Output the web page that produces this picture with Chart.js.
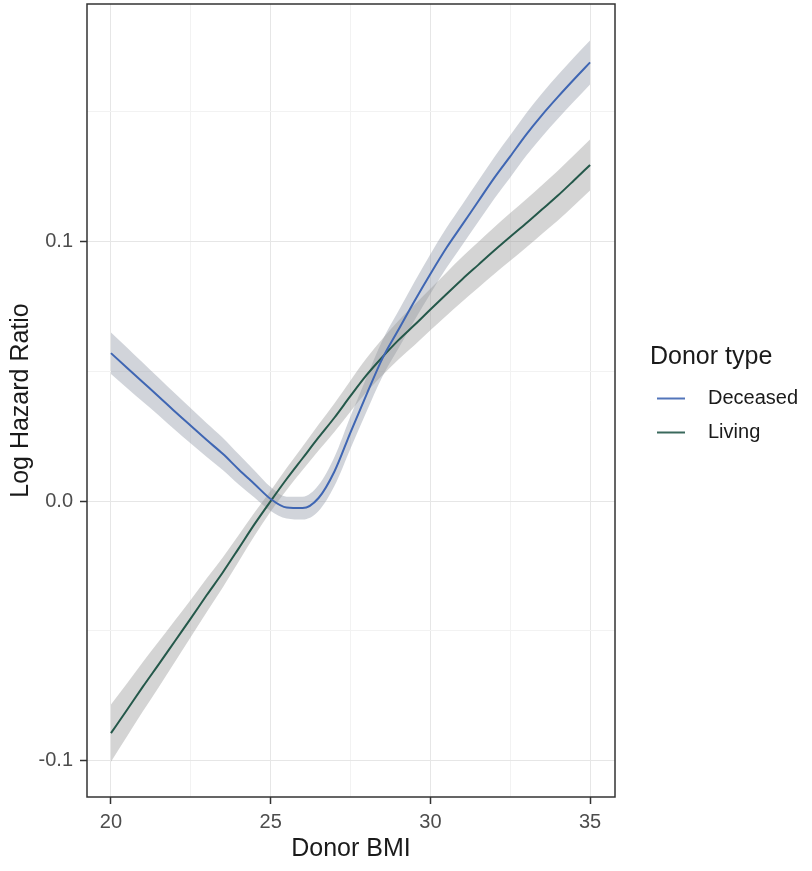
<!DOCTYPE html>
<html>
<head>
<meta charset="utf-8">
<script src="https://cdn.jsdelivr.net/npm/chart.js"></script>
<style>
  html, body { margin: 0; padding: 0; background: #ffffff; }
  canvas { display: block; }
</style>
</head>
<body>
<canvas id="c" width="812" height="871"></canvas>
<script>
// ---- data ----
const bmi = [20, 20.5, 21, 21.5, 22, 22.5, 23, 23.5, 24, 24.5, 25, 25.5, 26, 26.5, 27, 27.5,
             28, 28.5, 29, 29.5, 30, 30.5, 31, 31.5, 32, 32.5, 33, 33.5, 34, 34.5, 35];

const deceased = [0.0570, 0.0514, 0.0458, 0.0402, 0.0345, 0.0290, 0.0235, 0.0182, 0.0122, 0.0065,
                  0.0008, -0.0025, -0.0027, 0.0012, 0.0115, 0.0265, 0.0410, 0.0550, 0.0660, 0.0770,
                  0.0875, 0.0975, 0.1065, 0.1155, 0.1245, 0.1328, 0.1412, 0.1488, 0.1558, 0.1625, 0.1690];
const deceasedUpper = [0.0650, 0.0592, 0.0533, 0.0474, 0.0415, 0.0358, 0.0300, 0.0244, 0.0180, 0.0117,
                       0.0054, 0.0017, 0.0017, 0.0062, 0.0171, 0.0327, 0.0476, 0.0620, 0.0732, 0.0844,
                       0.0951, 0.1052, 0.1143, 0.1234, 0.1325, 0.1409, 0.1494, 0.1571, 0.1642, 0.1710, 0.1775];
const deceasedLower = [0.0490, 0.0436, 0.0383, 0.0330, 0.0275, 0.0222, 0.0170, 0.0120, 0.0064, 0.0013,
                       -0.0038, -0.0067, -0.0071, -0.0038, 0.0059, 0.0203, 0.0344, 0.0480, 0.0588, 0.0696,
                       0.0799, 0.0898, 0.0987, 0.1076, 0.1165, 0.1247, 0.1330, 0.1405, 0.1474, 0.1540, 0.1605];

const living = [-0.0894, -0.0805, -0.0715, -0.0628, -0.0540, -0.0452, -0.0362, -0.0275, -0.0182, -0.0088,
                0.0000, 0.0085, 0.0165, 0.0245, 0.0322, 0.0405, 0.0485, 0.0555, 0.0620, 0.0678,
                0.0738, 0.0797, 0.0855, 0.0910, 0.0965, 0.1018, 0.1070, 0.1124, 0.1178, 0.1236, 0.1295];
const livingUpper = [-0.0784, -0.0703, -0.0620, -0.0540, -0.0460, -0.0380, -0.0297, -0.0217, -0.0131, -0.0043,
                     0.0040, 0.0127, 0.0210, 0.0295, 0.0377, 0.0465, 0.0550, 0.0625, 0.0695, 0.0756,
                     0.0818, 0.0880, 0.0941, 0.0998, 0.1055, 0.1110, 0.1163, 0.1218, 0.1274, 0.1333, 0.1393];
const livingLower = [-0.1004, -0.0907, -0.0810, -0.0716, -0.0620, -0.0524, -0.0427, -0.0333, -0.0233, -0.0133,
                     -0.0040, 0.0043, 0.0120, 0.0195, 0.0267, 0.0345, 0.0420, 0.0485, 0.0545, 0.0600,
                     0.0658, 0.0714, 0.0769, 0.0822, 0.0875, 0.0926, 0.0977, 0.1030, 0.1082, 0.1139, 0.1197];

const seriesNames = ['Deceased', 'Living'];
const legendTitle = 'Donor type';
const xTitle = 'Donor BMI';
const yTitle = 'Log Hazard Ratio';
const xMajorTicks = [20, 25, 30, 35];
const xMinorTicks = [22.5, 27.5, 32.5];
const yMajorTicks = [-0.1, 0, 0.1];
const yMajorLabels = ['-0.1', '0.0', '0.1'];
const yMinorTicks = [-0.05, 0.05, 0.15];

// ---- helpers ----
const pts = (ys) => bmi.map((x, i) => ({ x: x, y: ys[i] }));
const near = (a, b) => Math.abs(a - b) < 1e-9;
const isIn = (v, arr) => arr.some(t => near(t, v));

const FONT = "'Liberation Sans', Arial, Helvetica, sans-serif";
Chart.defaults.font.family = FONT;

const blue = '#3f66b3';
const green = '#24584a';
const bandDeceased = 'rgba(146,152,166,0.42)';
const bandLiving = 'rgba(153,153,153,0.42)';

// legend key: a short line drawn at the left of a wider image
function keyImage(color) {
  const c = document.createElement('canvas');
  c.width = 48; c.height = 4;
  const g = c.getContext('2d');
  g.strokeStyle = color; g.lineWidth = 1.8;
  g.beginPath(); g.moveTo(0, 2); g.lineTo(28, 2); g.stroke();
  return c;
}
const keyImgs = [keyImage(blue), keyImage(green)];

const panelBorder = {
  id: 'panelBorder',
  afterDraw(chart) {
    const { ctx, chartArea: a } = chart;
    ctx.save();
    ctx.strokeStyle = '#333333';
    ctx.lineWidth = 1.5;
    ctx.strokeRect(a.left, a.top, a.right - a.left, a.bottom - a.top);
    ctx.restore();
  }
};

const lineDs = (label, data, color) => ({
  label, data: pts(data), borderColor: color, backgroundColor: color,
  borderWidth: 2, pointRadius: 0, fill: false, order: 0,
  cubicInterpolationMode: 'monotone'
});
const bandDs = (data, fill, color, order) => ({
  label: '', data: pts(data), borderWidth: 0, borderColor: 'rgba(0,0,0,0)',
  backgroundColor: color, pointRadius: 0, fill: fill, order: order,
  cubicInterpolationMode: 'monotone'
});

new Chart(document.getElementById('c'), {
  type: 'line',
  data: {
    datasets: [
      lineDs(seriesNames[0], deceased, blue),
      lineDs(seriesNames[1], living, green),
      bandDs(deceasedUpper, false, bandDeceased, 2),
      bandDs(deceasedLower, 2, bandDeceased, 2),
      bandDs(livingUpper, false, bandLiving, 1),
      bandDs(livingLower, 4, bandLiving, 1)
    ]
  },
  options: {
    responsive: false,
    animation: false,
    devicePixelRatio: 1,
    layout: { padding: { top: 4, right: 12, bottom: 0, left: 0 } },
    plugins: {
      tooltip: { enabled: false },
      legend: {
        display: true,
        position: 'right',
        align: 'center',
        fullSize: false,
        maxWidth: 150,
        title: {
          display: true, text: legendTitle, position: 'start',
          color: '#1a1a1a', font: { size: 25, family: FONT }
        },
        labels: {
          usePointStyle: true, pointStyleWidth: 34,
          padding: 14, color: '#1a1a1a', font: { size: 20, family: FONT },
          generateLabels: (chart) => Chart.defaults.plugins.legend.labels.generateLabels(chart)
            .filter(item => item.datasetIndex < 2)
            .map(item => Object.assign(item, { pointStyle: keyImgs[item.datasetIndex] }))
        }
      }
    },
    scales: {
      x: {
        type: 'linear',
        min: 19.25, max: 35.78,
        afterBuildTicks: (s) => { s.ticks = xMajorTicks.concat(xMinorTicks).sort((a, b) => a - b).map(v => ({ value: v })); },
        afterFit: (s) => { s.height = 74; s.paddingLeft = 0; s.paddingRight = 0; },
        ticks: {
          autoSkip: false, maxRotation: 0, padding: 6,
          color: '#4d4d4d', font: { size: 20 },
          callback: (v) => isIn(v, xMajorTicks) ? String(v) : ''
        },
        grid: {
          color: (c) => isIn(c.tick.value, xMajorTicks) ? '#e6e6e6' : '#f2f2f2',
          tickColor: (c) => isIn(c.tick.value, xMajorTicks) ? '#333333' : 'rgba(0,0,0,0)',
          tickLength: 7, tickWidth: 1.5, lineWidth: 1
        },
        border: { display: false },
        title: { display: true, text: xTitle, color: '#1a1a1a', font: { size: 25 }, padding: { top: 0, bottom: 7 } }
      },
      y: {
        type: 'linear',
        min: -0.114, max: 0.1915,
        afterBuildTicks: (s) => { s.ticks = yMajorTicks.concat(yMinorTicks).sort((a, b) => a - b).map(v => ({ value: v })); },
        afterFit: (s) => { s.width = 87; s.paddingTop = 0; s.paddingBottom = 0; },
        ticks: {
          autoSkip: false, padding: 7,
          color: '#4d4d4d', font: { size: 20 },
          callback: (v) => {
            const k = yMajorTicks.findIndex(t => near(t, v));
            return k >= 0 ? yMajorLabels[k] : '';
          }
        },
        grid: {
          color: (c) => isIn(c.tick.value, yMajorTicks) ? '#e6e6e6' : '#f2f2f2',
          tickColor: (c) => isIn(c.tick.value, yMajorTicks) ? '#333333' : 'rgba(0,0,0,0)',
          tickLength: 7, tickWidth: 1.5, lineWidth: 1
        },
        border: { display: false },
        title: { display: true, text: yTitle, color: '#1a1a1a', font: { size: 25 }, padding: { top: 6, bottom: 0 } }
      },
      spacer: {
        type: 'linear', position: 'right', display: true,
        ticks: { display: false }, grid: { display: false }, border: { display: false },
        afterFit: (s) => { s.width = 35; s.paddingTop = 0; s.paddingBottom = 0; }
      }
    }
  },
  plugins: [panelBorder]
});
</script>
</body>
</html>
